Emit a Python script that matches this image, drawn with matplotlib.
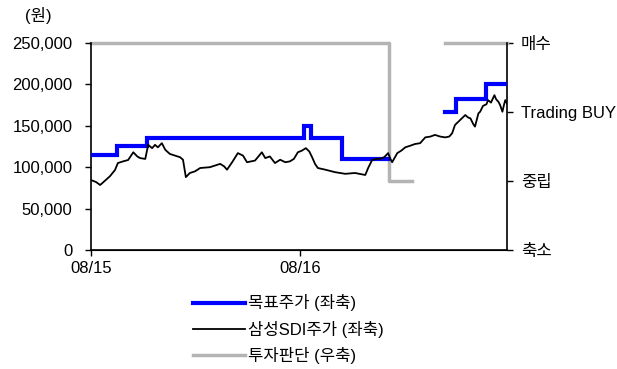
import numpy as np
import matplotlib
matplotlib.use("Agg")
from matplotlib import pyplot as plt

plt.rcParams['font.family'] = ['Liberation Sans', 'Noto Sans CJK KR', 'DejaVu Sans']

# Days since 08/15 (08/16 is day 366)
price_days = [0, 9, 16, 25, 33, 42, 47, 56, 65, 74, 81, 86, 95, 100, 107, 112, 117, 124, 130,
              138, 147, 156, 161, 166, 173, 182, 191, 208, 226, 233, 238, 247, 257, 266, 273,
              287, 299, 305, 313, 322, 331, 340, 348, 355, 362, 369, 376, 382, 387, 392, 397,
              410, 427, 445, 462, 480, 485, 492, 499, 506, 513, 520, 524, 527, 536, 543, 550,
              559, 567, 576, 585, 594, 602, 611, 620, 627, 632, 637, 646, 655, 660, 664, 669,
              672, 678, 681, 686, 692, 695, 700, 706, 709, 713, 716, 720, 723, 725, 728]
price_vals = [84500, 82000, 78500, 84000, 89000, 96600, 105000, 107000, 108700, 118000, 113000,
              111000, 110000, 127000, 123000, 127000, 124000, 129000, 121000, 116000, 114000,
              112000, 109000, 88000, 93000, 95000, 99000, 100000, 104000, 101000, 97000, 106000,
              117000, 114000, 106000, 108000, 118000, 111000, 113000, 105000, 109000, 106000,
              107000, 110000, 118000, 120000, 123000, 119000, 112000, 104000, 99000, 97000,
              94000, 92000, 93000, 90600, 99000, 108700, 110000, 110000, 112000, 117000, 110000,
              106000, 117000, 120000, 124000, 126000, 128000, 129000, 136000, 137000, 139000,
              137000, 136000, 137000, 141000, 151000, 157000, 163000, 160000, 159000, 152000,
              149000, 165000, 167000, 174000, 176000, 181000, 178000, 187000, 182000, 179000,
              175000, 167000, 176000, 181000, 177000]

target_days = [0, 45, 98, 373, 385, 440, 520, 520, 620, 639, 692, 728]
target_vals = [115000, 125000, 135000, 150000, 135000, 110000, 110000, np.nan,
               167000, 182000, 200000, 200000]

opinion_days = [0, 522, 522, 561, 561, 620, 728]
opinion_vals = [3, 3, 1, 1, np.nan, 3, 3]

opinion_labels = ['축소', '중립', 'Trading BUY', '매수']
x_ticks = [0, 366]
x_labels = ['08/15', '08/16']

fig = plt.figure(figsize=(6.17, 3.69), dpi=100)
ax = fig.add_axes([0.1475, 0.3225, 0.6742, 0.561])
ax2 = ax.twinx()

l1, = ax.plot(target_days, target_vals, color='#0000ff', lw=3, drawstyle='steps-post',
              solid_joinstyle='miter', zorder=3)
l2, = ax.plot(price_days, price_vals, color='black', lw=1.3, zorder=4)
l3, = ax2.plot(opinion_days, opinion_vals, color='#b4b4b4', lw=2.5, clip_on=False)

ax.set_xlim(0, 728)
ax.set_ylim(0, 250000)
ax2.set_ylim(0, 3)
ax.set_yticks(range(0, 250001, 50000))
ax.set_yticklabels([f'{v:,}' for v in range(0, 250001, 50000)], fontsize=12)
ax.set_xticks(x_ticks)
ax.set_xticklabels(x_labels, fontsize=12)
ax2.set_yticks([0, 1, 2, 3])
ax2.set_yticklabels(opinion_labels, fontsize=12)

for a in (ax, ax2):
    a.spines['top'].set_visible(False)
ax.tick_params(axis='y', direction='out', length=4.5, width=1, pad=9)
ax.tick_params(axis='x', direction='out', length=4, width=1, pad=4)
ax2.tick_params(axis='y', direction='out', length=4, width=1, pad=6)
ax2.spines['left'].set_visible(False)
ax.spines['right'].set_visible(False)
ax2.spines['right'].set_linewidth(1.2)
ax.spines['left'].set_linewidth(1.2)
ax.spines['bottom'].set_linewidth(1.2)
ax.set_zorder(ax2.get_zorder() + 1)
ax.patch.set_visible(False)

fig.text(0.04, 0.958, '(원)', fontsize=12, ha='left', va='center')

fig.legend([l1, l2, l3], ['목표주가 (좌축)', '삼성SDI주가 (좌축)', '투자판단 (우축)'],
           loc='upper left', bbox_to_anchor=(0.3128, 0.202), frameon=False, fontsize=12,
           handlelength=3.1, handletextpad=0.2, labelspacing=0.55, borderaxespad=0,
           borderpad=0)

fig.savefig('out.png', dpi=100)
